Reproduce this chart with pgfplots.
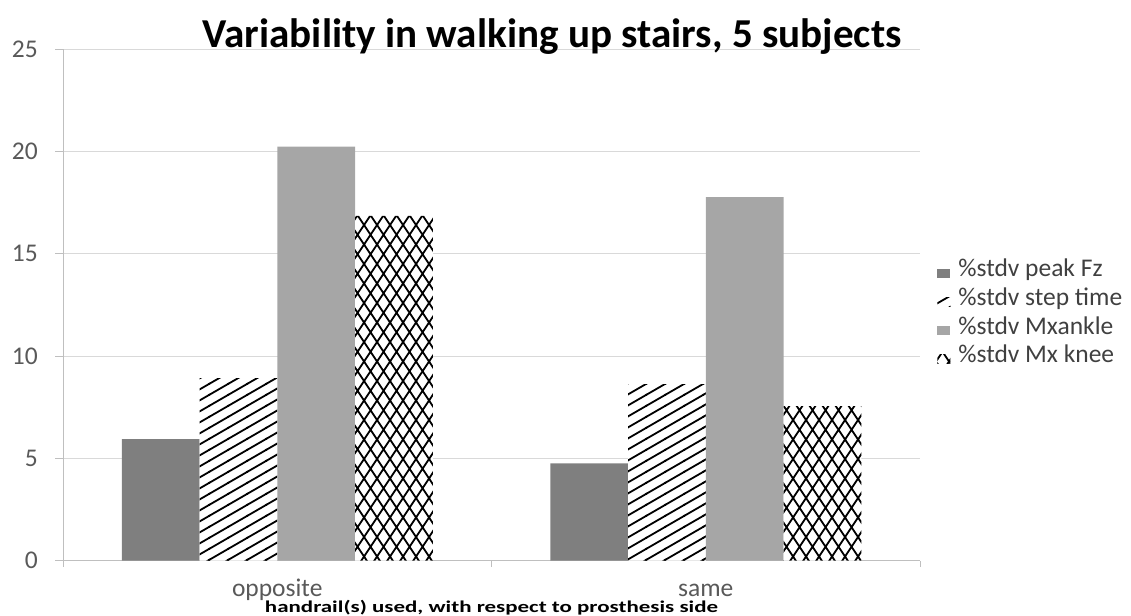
\documentclass[border=0pt]{standalone}
\usepackage{fontspec}
\setmainfont{Carlito}
\usepackage{graphicx}
\usepackage{pgfplots}
\pgfplotsset{compat=1.18}
\usetikzlibrary{patterns}

\pgfdeclarepatternformonly{mydiag}{\pgfpoint{-1pt}{-1pt}}{\pgfpoint{20pt}{12pt}}{\pgfpoint{19pt}{11pt}}{%
  \pgfsetlinewidth{1.8pt}%
  \pgfpathmoveto{\pgfpoint{-1pt}{-0.579pt}}%
  \pgfpathlineto{\pgfpoint{20pt}{11.579pt}}%
  \pgfusepath{stroke}}

\pgfdeclarepatternformonly{mycross}{\pgfpoint{-1pt}{-1pt}}{\pgfpoint{14pt}{20.5pt}}{\pgfpoint{13pt}{19.5pt}}{%
  \pgfsetlinewidth{1.8pt}%
  \pgfpathmoveto{\pgfpoint{-0.5pt}{-0.75pt}}%
  \pgfpathlineto{\pgfpoint{13.5pt}{20.25pt}}%
  \pgfpathmoveto{\pgfpoint{-0.5pt}{20.25pt}}%
  \pgfpathlineto{\pgfpoint{13.5pt}{-0.75pt}}%
  \pgfusepath{stroke}}

\definecolor{darkbar}{HTML}{7F7F7F}
\definecolor{lightbar}{HTML}{A6A6A6}
\definecolor{gridc}{HTML}{D9D9D9}
\definecolor{axisc}{HTML}{BFBFBF}
\definecolor{tickc}{HTML}{595959}

\begin{document}
\begin{tikzpicture}
\useasboundingbox (0,0) rectangle (1131pt,615pt);
\begin{axis}[
  at={(63pt,54.3pt)}, anchor=south west,
  scale only axis, width=857pt, height=511.4pt,
  xmin=-0.5, xmax=1.5, ymin=0, ymax=25,
  ybar=0pt, bar width=77.75pt,
  axis x line*=bottom, axis y line*=left,
  axis line style={draw=axisc, line width=1pt},
  ytick={0,5,...,25},
  ymajorgrids, grid style={draw=gridc, line width=1pt},
  tick align=outside, major tick length=8pt,
  ytick style={draw=axisc, line width=1pt},
  xtick={0,1}, xticklabels={opposite,same},
  xtick style={draw=none},
  extra x ticks={-0.5,0.5,1.5}, extra x tick labels={},
  extra x tick style={grid=none, major tick length=6pt, xtick style={draw=axisc, line width=1pt}},
  /pgf/number format/assume math mode=true,
  tick label style={font=\fontsize{25.5}{30}\selectfont, text=tickc},
  yticklabel style={anchor=east, inner sep=0pt, xshift=-17pt},
  xticklabel style={anchor=base, inner sep=0pt, yshift=-28pt},
  title={Variability in walking up stairs, 5 subjects},
  title style={at={(axis description cs:0.5706,0.991)}, anchor=base, inner sep=0pt,
    font=\bfseries\fontsize{41.1}{48}\selectfont},
  xlabel={\scalebox{1.39}[1]{handrail(s) used, with respect to prosthesis side}},
  xlabel style={at={(axis description cs:0.5,0)}, anchor=base, inner sep=0pt, yshift=-51.3pt,
    font=\bfseries\fontsize{16.5}{20}\selectfont},
  legend style={at={(axis description cs:1.02,0.478)}, anchor=west, draw=none, fill=none,
    font=\fontsize{25.5}{30}\selectfont, text=black!75, inner sep=0pt, column sep=8pt,
    row sep=0pt,
    nodes={inner sep=0pt, text height=18pt, text depth=10.7pt},
    cells={anchor=west}},
  every axis plot post/.append style={legend image code/.code={\path[##1,draw=none] (0pt,-4.5pt) rectangle (13pt,4.5pt);}},
]
\addplot[fill=darkbar, draw=none] coordinates {(0,5.94) (1,4.76)};
\addlegendentry{\%stdv peak Fz}
\addplot[fill=white, draw=none, postaction={pattern=mydiag}] coordinates {(0,8.92) (1,8.63)};
\addlegendentry{\%stdv step time}
\addplot[fill=lightbar, draw=none] coordinates {(0,20.24) (1,17.77)};
\addlegendentry{\%stdv Mxankle}
\addplot[fill=white, draw=none, postaction={pattern=mycross}] coordinates {(0,16.86) (1,7.56)};
\addlegendentry{\%stdv Mx knee}
\end{axis}
\end{tikzpicture}
\end{document}
